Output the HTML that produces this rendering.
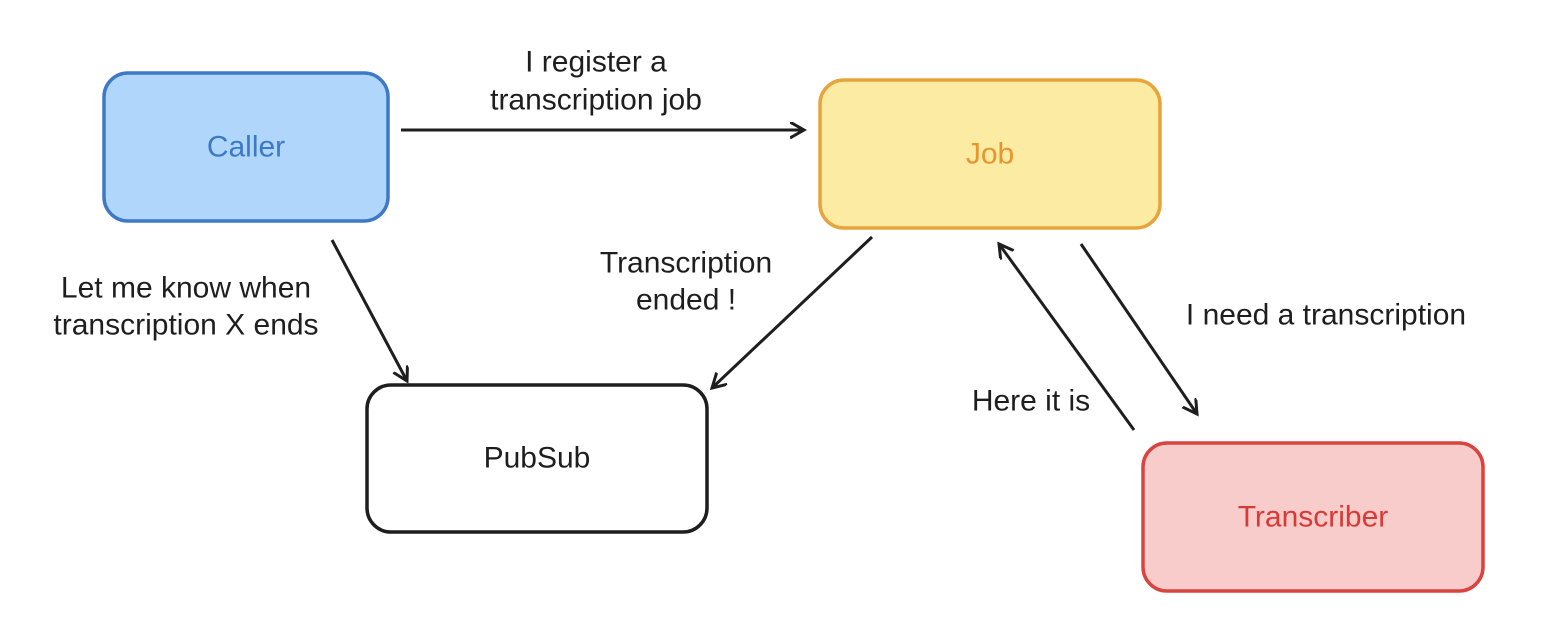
<!DOCTYPE html>
<html><head><style>body{margin:0;background:#fff}svg{display:block}text{font-family:"Liberation Sans",sans-serif;font-size:30px;fill:#1e1e1e;text-anchor:middle;dominant-baseline:central}</style></head>
<body>
<svg width="1564" height="636" viewBox="0 0 1564 636">
<defs><marker id="a" markerWidth="20" markerHeight="20" refX="14" refY="8" orient="auto" markerUnits="userSpaceOnUse"><path d="M0,0 L14,8 L0,16" fill="none" stroke="#1e1e1e" stroke-width="3"/></marker></defs>
<rect x="104" y="73" width="284" height="148" rx="24" fill="#b0d6fb" stroke="#3d79c4" stroke-width="3.5"/>
<text x="246" y="147" style="fill:#3d79c4">Caller</text>
<rect x="820" y="80" width="340" height="148" rx="24" fill="#fbeba3" stroke="#e8a33a" stroke-width="3.5"/>
<text x="990" y="154" style="fill:#e8952e">Job</text>
<rect x="367" y="385" width="340" height="147" rx="24" fill="#fff" stroke="#1e1e1e" stroke-width="3.5"/>
<text x="537" y="458">PubSub</text>
<rect x="1143" y="443" width="340" height="148" rx="24" fill="#f7cccb" stroke="#d9443f" stroke-width="3.5"/>
<text x="1313" y="517" style="fill:#d83a35">Transcriber</text>
<g stroke="#1e1e1e" stroke-width="3" fill="none" marker-end="url(#a)">
<line x1="401" y1="130" x2="804" y2="130"/>
<line x1="332" y1="240" x2="407" y2="381"/>
<line x1="872" y1="237" x2="712" y2="388"/>
<line x1="1134" y1="430" x2="999" y2="244"/>
<line x1="1081" y1="244" x2="1197" y2="414"/>
</g>
<text x="596" y="62">I register a</text>
<text x="596" y="100">transcription job</text>
<text x="186" y="288">Let me know when</text>
<text x="186" y="325">transcription X ends</text>
<text x="686" y="263">Transcription</text>
<text x="686" y="300">ended !</text>
<text x="1326" y="315">I need a transcription</text>
<text x="1031" y="401">Here it is</text>
</svg>
</body></html>
